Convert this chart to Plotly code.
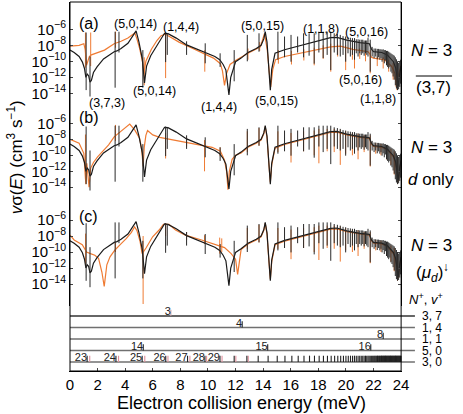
import numpy as np
import plotly.graph_objects as go

# ---- values (energies in meV, curves as log10 of v*sigma in cm^3 s^-1) ----

# black curve (full calculation) -- the same in panels (a), (b), (c)
black_E = [0.0, 0.3, 0.66, 0.9, 1.05, 1.15, 1.25, 1.35, 1.45, 1.55, 1.7, 1.96, 2.43, 2.9, 3.2, 3.4,
           3.7, 4.2, 4.55, 4.79, 5.0, 5.24, 5.4, 5.55, 5.85, 6.32, 6.68, 6.85, 7.1, 7.7, 8.45, 9.4,
           9.9, 10.5, 10.85, 11.1, 11.3, 11.45, 11.52, 11.65, 11.9, 12.0, 12.4, 12.9, 13.5, 13.85,
           14.05, 14.15, 14.28, 14.42, 14.52, 14.62, 14.86, 15.55, 16.74, 17.93, 18.88, 19.35, 20.06,
           21.01, 21.6, 21.7, 21.85, 22.0, 22.6, 23.0, 23.44, 23.6, 23.7, 23.8, 23.9, 24.0]
black_logv = [-8.6, -8.9, -9.4, -10.1, -10.9, -12.0, -11.6, -11.8, -12.6, -12.4, -11.4, -10.7, -9.7,
              -9.1, -8.8, -8.7, -8.4, -7.75, -6.9, -6.2, -7.6, -9.7, -12.7, -10.6, -9.3, -8.0, -6.95,
              -6.5, -6.55, -7.1, -7.95, -8.6, -9.0, -9.4, -9.8, -10.4, -11.1, -12.8, -14.2, -12.0,
              -10.4, -10.05, -9.6, -8.9, -8.4, -8.0, -7.2, -6.3, -7.6, -11.0, -13.6, -11.0, -9.0,
              -8.55, -8.0, -7.5, -7.05, -7.0, -7.35, -7.67, -7.75, -7.8, -8.5, -8.8, -8.9, -9.2,
              -10.05, -10.8, -11.9, -13.1, -11.5, -10.6]

# narrow resonances of the black curve: energy, upper end, lower end
black_spike_E = [1.17, 1.45, 3.27, 3.55, 5.28, 6.93, 7.05, 8.45, 9.8, 10.88, 11.9,
                 12.85, 13.7, 15.07, 15.55, 16.02, 16.5, 16.93, 17.33, 17.7, 18.04, 18.35, 18.64, 18.9,
                 19.15, 19.38, 19.59, 19.79, 19.98, 20.15, 20.32, 20.47, 20.62, 20.75, 20.88, 21.0,
                 21.11, 21.22, 21.32, 21.42, 21.51, 21.6, 21.76, 21.9, 22.04, 22.16, 22.27, 22.37,
                 22.46, 22.54, 22.62, 22.7, 22.78, 22.86, 22.94, 23.02, 23.1, 23.18, 23.26, 23.34,
                 23.42, 23.5, 23.58, 23.66, 23.74, 23.82, 23.9, 23.97]
black_spike_top = [-6.4, -9.4, -6.3, -6.3, -8.6, -6.4, -6.5, -7.5, -7.75, -9.0, -8.6,
                   -6.7, -6.5, -6.3, -6.9, -6.7, -6.9, -6.5, -6.5, -6.5, -6.3, -6.3, -6.3, -6.3,
                   -6.5, -6.6, -6.7, -6.85, -6.9, -7.0, -7.05, -7.1, -7.1, -7.25, -7.25, -7.3,
                   -7.3, -7.3, -7.4, -7.4, -7.4, -7.1, -7.3, -8.2, -8.4, -8.4, -8.45, -8.45,
                   -8.5, -8.5, -8.55, -8.5, -8.6, -8.6, -8.7, -8.7, -8.8, -8.9, -9.0, -9.1,
                   -9.2, -9.3, -9.5, -9.75, -10.0, -10.2, -10.0, -9.8]
black_spike_bot = [-13.6, -14.4, -13.3, -8.9, -13.3, -10.1, -9.2, -9.2, -10.25, -10.7, -12.5,
                   -10.0, -8.8, -9.8, -9.5, -10.05, -8.9, -9.5, -9.3, -10.3, -8.9, -9.6, -9.2, -11.1,
                   -8.9, -9.2, -9.4, -9.2, -10.05, -9.0, -9.4, -9.2, -9.8, -9.0, -9.4, -9.0,
                   -9.2, -9.0, -9.3, -9.0, -9.2, -9.4, -11.3, -9.4, -9.6, -9.4, -9.75, -9.5,
                   -9.8, -9.6, -10.05, -9.75, -10.25, -9.9, -10.5, -10.7, -10.9, -10.7, -11.3, -11.5,
                   -11.9, -12.3, -13.0, -13.4, -13.6, -13.5, -13.2, -12.8]

# orange curve, panel (a)
orange_a_E = [0.0, 0.66, 1.0, 1.1, 1.2, 1.3, 1.4, 1.55, 1.7, 2.0, 2.5, 3.2, 3.7, 4.2, 4.7, 4.85, 5.05,
              5.25, 5.35, 5.5, 5.9, 6.3, 6.6, 6.9, 7.2, 7.9, 8.9, 9.6, 10.4, 10.9, 11.05, 11.2, 11.35,
              11.6, 12.0, 12.9, 13.8, 14.1, 14.3, 14.45, 14.55, 14.7, 14.9, 15.55, 16.74, 17.93,
              18.88, 19.6, 20.5, 21.6, 21.7, 21.85, 22.0, 22.8, 23.3, 23.55, 23.65, 23.75, 23.9, 24.0]
orange_a_logv = [-8.1, -8.0, -7.8, -8.5, -10.5, -10.0, -9.4, -9.2, -9.1, -8.9, -8.6, -7.8, -7.5, -7.1,
                 -6.45, -7.2, -8.4, -10.0, -11.5, -10.0, -8.5, -7.4, -6.8, -6.6, -6.9, -7.6, -8.4,
                 -9.0, -9.6, -10.3, -11.2, -13.0, -11.5, -10.4, -9.9, -9.0, -8.2, -6.5, -8.6, -11.5,
                 -13.2, -11.0, -9.8, -9.4, -9.0, -8.6, -8.2, -8.1, -8.5, -8.8, -9.0, -9.5, -9.6,
                 -9.8, -10.6, -11.5, -13.2, -12.0, -11.0, -10.5]
orange_a_spike_E = [1.12, 1.5, 3.3, 5.38, 6.93, 9.77, 12.9, 13.75, 15.1, 16.05, 16.95, 17.7, 18.35,
                    18.9, 19.4, 19.98, 20.47, 20.62, 21.0, 21.42, 21.76, 22.27, 22.7, 23.1, 23.42, 23.7]
orange_a_spike_top = [-6.4, -6.4, -6.3, -9.5, -6.6, -8.6, -8.4, -7.6, -8.6, -8.7, -8.5, -8.3, -8.0,
                      -7.8, -7.9, -8.0, -8.2, -8.3, -8.4, -8.5, -8.6, -9.4, -9.5, -9.8, -10.2, -11.0]
orange_a_spike_bot = [-10.8, -10.6, -8.3, -13.0, -12.1, -11.3, -9.8, -8.7, -10.3, -10.4, -9.9, -10.5,
                      -9.7, -11.3, -9.4, -11.1, -9.8, -10.9, -9.7, -10.0, -11.5, -10.6, -10.9, -11.3,
                      -12.3, -13.6]

# orange curve, panel (b), below 12 meV
orange_b_E = [0.0, 0.66, 1.0, 1.08, 1.15, 1.22, 1.3, 1.38, 1.5, 1.7, 2.0, 2.8, 3.2, 3.7, 4.1, 4.33,
              4.7, 5.05, 5.2, 5.3, 5.38, 5.5, 5.62, 6.0, 6.5, 6.95, 7.9, 8.4, 9.6, 10.3, 10.9, 11.2,
              11.35, 11.45, 11.55, 11.75, 12.0]
orange_b_logv = [-8.0, -8.5, -9.75, -11.5, -13.6, -11.0, -12.3, -14.0, -11.6, -10.9, -10.2, -8.7,
                 -7.7, -7.0, -6.4, -6.1, -6.85, -7.9, -9.3, -11.4, -9.0, -7.5, -6.9, -7.45, -7.75,
                 -7.9, -8.15, -8.3, -8.7, -9.0, -9.5, -10.6, -12.0, -14.3, -12.0, -10.5, -10.0]
orange_b_spike_E = [1.12, 3.3, 6.93, 8.45, 9.75, 10.88]
orange_b_spike_top = [-7.4, -6.2, -7.2, -7.8, -8.1, -9.0]
orange_b_spike_bot = [-13.0, -8.2, -10.4, -8.9, -12.0, -10.1]

# orange curve, panel (c), below 12.3 meV
orange_c_E = [0.0, 0.3, 0.89, 1.05, 1.2, 1.48, 1.8, 2.07, 2.31, 2.48, 2.67, 2.9, 3.26, 3.62, 4.09,
              4.45, 4.68, 4.85, 5.08, 5.23, 5.51, 5.99, 6.46, 6.77, 7.17, 7.65, 8.36, 9.54, 10.25,
              10.73, 11.2, 11.68, 12.0, 12.15, 12.3]
orange_c_logv = [-7.9, -8.5, -9.1, -9.6, -10.0, -10.2, -10.4, -10.8, -12.5, -14.3, -11.6, -10.6,
                 -9.75, -9.1, -8.3, -7.55, -6.85, -7.3, -8.7, -10.2, -9.5, -8.1, -7.25, -6.55, -6.55,
                 -7.25, -7.9, -8.5, -8.9, -9.1, -9.45, -10.2, -10.9, -12.8, -10.8]
orange_c_spike_E = [1.13, 3.3, 5.3, 6.93, 8.45, 9.75, 10.85, 11.0]
orange_c_spike_top = [-7.7, -8.8, -8.0, -6.4, -7.5, -7.9, -8.2, -8.3]
orange_c_spike_bot = [-11.6, -10.0, -16.5, -8.0, -8.5, -9.0, -10.2, -10.0]

# orange curve above 12.4 meV, common to panels (b) and (c)
orange_bc_tail_E = [12.4, 12.9, 13.5, 13.85, 14.05, 14.15, 14.28, 14.42, 14.52, 14.62, 14.86, 15.55,
                    16.74, 17.93, 18.88, 19.35, 20.06, 21.01, 21.6, 21.7, 21.85, 22.0, 22.6, 23.0,
                    23.44, 23.6, 23.7, 23.8, 23.9, 24.0]
orange_bc_tail_logv = [-9.7, -9.0, -8.5, -8.1, -7.3, -6.4, -7.8, -11.2, -13.4, -11.2, -9.1, -8.65,
                       -8.1, -7.6, -7.15, -7.1, -7.45, -7.75, -7.85, -7.9, -8.6, -8.9, -9.0, -9.3,
                       -10.2, -11.0, -12.2, -13.3, -11.6, -10.7]
orange_bc_spike_E = [12.85, 13.7, 15.07, 16.02, 16.93, 17.7, 18.04, 18.64, 19.15, 19.59, 19.98,
                     20.47, 20.88, 21.32, 21.76, 22.16, 22.54, 22.94, 23.26, 23.5, 23.74]
orange_bc_spike_top = [-7.0, -6.6, -7.0, -7.2, -7.0, -6.9, -6.7, -6.7, -6.7, -6.8, -7.0, -7.2, -7.3,
                       -7.5, -7.5, -8.5, -8.6, -8.8, -9.2, -9.5, -10.2]
orange_bc_spike_bot = [-9.6, -8.8, -9.6, -10.9, -9.5, -10.0, -11.0, -9.5, -9.6, -11.2, -9.8, -10.0,
                       -10.5, -9.6, -11.4, -9.8, -10.0, -10.5, -11.2, -12.4, -13.6]

# threshold levels (N+, v+) of the bottom diagram
level_names = ["3, 7", "1, 4", "1, 1", "5, 0", "3, 0"]
level_index = [5, 4, 3, 2, 1]
level_span = [0.0, 25.0]

# single marked resonances on the upper levels
mark_E = [7.31, 12.48, 22.7, 5.31, 14.33, 21.8]
mark_level = [5, 4, 3, 2, 2, 2]
mark_text = ["3", "4", "8", "14", "15", "16"]

# Rydberg series converging to 3,0 (black) and its partner (pink)
series_E = [1.24, 3.33, 5.23, 6.94, 8.52, 9.78, 10.87, 11.9, 12.82, 13.64, 14.36, 15.02, 15.58,
             16.08, 16.54, 16.96, 17.36, 17.72, 18.06, 18.37, 18.66, 18.93, 19.18, 19.41, 19.62,
             19.82, 20.0, 20.17, 20.33, 20.48, 20.62, 20.75, 20.88, 21.0, 21.11, 21.22, 21.32,
             21.42, 21.51, 21.6, 21.68, 21.76, 21.84, 21.91, 21.98, 22.05, 22.11, 22.17, 22.23,
             22.29, 22.34, 22.39, 22.44, 22.49, 22.54, 22.58, 22.63, 22.67, 22.71, 22.75, 22.79,
             22.83, 22.87, 22.91, 22.95, 22.99, 23.03, 23.07, 23.11, 23.15, 23.19, 23.23, 23.27,
             23.31, 23.35, 23.39, 23.43, 23.47, 23.51, 23.55, 23.59, 23.63, 23.67, 23.71, 23.75,
             23.79, 23.83, 23.87, 23.91, 23.95, 23.99]
series_text = ["23", "24", "25", "26", "27", "28", "29"]
series_pink_E = [1.43, 3.52, 5.42, 7.1, 8.69, 9.9, 11.02, 12.02, 12.92]

# ---- geometry (pixels of the 463 x 414 page) ----
W, H = 463, 414
ML, MR, MT, MB = 70, 0, 2, 43
PW, PH = W - ML - MR, H - MT - MB
X_RIGHT = 408                      # pixel column of 24 meV = right frame
MAIN = (X_RIGHT - ML) / PW         # x-domain of the curve panels
PX_PER_DEC = 8.0


def px(x):
    return (x - ML) / PW


def py(y):
    return 1 - (y - MT) / PH


def log_range(row_1e6, top, bot):
    return [-6 - (bot - row_1e6) / PX_PER_DEC, -6 + (row_1e6 - top) / PX_PER_DEC]


ORANGE = "#ef7b33"
BLACK = "#1a1a1a"
FONT = "Liberation Sans, Arial, sans-serif"

fig = go.Figure()


def spikes(E, top, bot):
    xs, ys = [], []
    for e, t, b in zip(E, top, bot):
        xs += [e, e, None]
        ys += [10.0 ** t, 10.0 ** b, None]
    return xs, ys


def add_curve(E, logv, color, yax, width=1.2):
    fig.add_trace(go.Scatter(x=E, y=10.0 ** np.array(logv), mode="lines", xaxis="x", yaxis=yax,
                             line=dict(color=color, width=width), hoverinfo="skip", showlegend=False))


def add_spikes(E, top, bot, color, yax):
    sx, sy = spikes(E, top, bot)
    fig.add_trace(go.Scatter(x=sx, y=sy, mode="lines", xaxis="x", yaxis=yax,
                             line=dict(color=color, width=1), hoverinfo="skip", showlegend=False))


panels = [
    ("y", [(orange_a_E, orange_a_logv)],
     [(orange_a_spike_E, orange_a_spike_top, orange_a_spike_bot)]),
    ("y2", [(orange_b_E, orange_b_logv), (orange_bc_tail_E, orange_bc_tail_logv)],
     [(orange_b_spike_E, orange_b_spike_top, orange_b_spike_bot),
      (orange_bc_spike_E, orange_bc_spike_top, orange_bc_spike_bot)]),
    ("y3", [(orange_c_E, orange_c_logv), (orange_bc_tail_E, orange_bc_tail_logv)],
     [(orange_c_spike_E, orange_c_spike_top, orange_c_spike_bot),
      (orange_bc_spike_E, orange_bc_spike_top, orange_bc_spike_bot)]),
]
for yax, curves, spk in panels:
    for s in spk:
        add_spikes(*s, ORANGE, yax)
    E = [e for c in curves for e in c[0]]
    v = [x for c in curves for x in c[1]]
    add_curve(E, v, ORANGE, yax)
    add_curve(black_E, black_logv, BLACK, yax)
    add_spikes(black_spike_E, black_spike_top, black_spike_bot, "#2a2a2a", yax)

# ---- level diagram ----
LEVEL_ROWS = [316, 327.5, 339, 350.5, 362]
ROW_STEP = LEVEL_ROWS[1] - LEVEL_ROWS[0]
TICK_H = 0.55
for name, idx in zip(level_names, level_index):
    fig.add_trace(go.Scatter(x=level_span, y=[idx, idx], mode="lines", xaxis="x2", yaxis="y4",
                             line=dict(color="#333333" if idx == 5 else "#707070", width=1.4),
                             hoverinfo="skip", showlegend=False))


def tick_trace(E, lev, color):
    xs, ys = [], []
    for e, l in zip(E, lev):
        xs += [e, e, None]
        ys += [l, l + TICK_H, None]
    fig.add_trace(go.Scatter(x=xs, y=ys, mode="lines", xaxis="x2", yaxis="y4",
                             line=dict(color=color, width=1.1), hoverinfo="skip", showlegend=False))


tick_trace(series_pink_E, [1] * len(series_pink_E), "#e0909c")
tick_trace(series_E, [1] * len(series_E), "#222222")
tick_trace(mark_E[:1], mark_level[:1], "#c9a0a8")
tick_trace(mark_E[1:], mark_level[1:], "#222222")

fig.add_trace(go.Scatter(x=mark_E + series_E[:len(series_text)],
                         y=[l + 0.32 for l in mark_level] + [1.32] * len(series_text),
                         text=mark_text + series_text, mode="text", textposition="middle left",
                         textfont=dict(size=11, color="#222222", family=FONT),
                         xaxis="x2", yaxis="y4", cliponaxis=False, hoverinfo="skip", showlegend=False))

# ---- axes ----
tick_exp = [-14, -12, -10, -8, -6]
yticks = dict(type="log", tickvals=[10.0 ** e for e in tick_exp],
              ticktext=["10<sup>\u2212%d</sup>" % (-e) for e in tick_exp],
              ticks="inside", ticklen=3, showline=True, linecolor="black", linewidth=1,
              mirror="ticks", showgrid=False, zeroline=False, anchor="x",
              tickfont=dict(size=15, color="black", family=FONT))

lvl_lo = 1 - (371 - LEVEL_ROWS[-1]) / ROW_STEP
lvl_hi = 5 + (LEVEL_ROWS[0] - 306) / ROW_STEP

fig.update_layout(
    width=W, height=H, autosize=False,
    margin=dict(l=ML, r=MR, t=MT, b=MB),
    plot_bgcolor="white", paper_bgcolor="white",
    font=dict(family=FONT, size=13, color="black"),
    xaxis=dict(domain=[0, MAIN], range=[0, 24], anchor="y4", dtick=2, ticks="inside", ticklen=3,
               showgrid=False, zeroline=False, showline=True, linecolor="black",
               tickfont=dict(size=15, color="black", family=FONT)),
    xaxis2=dict(domain=[0, 1], range=[0, 24 / MAIN], anchor="y4", visible=False),
    xaxis3=dict(overlaying="x", side="top", anchor="y", range=[0, 24], dtick=1, ticks="inside",
                ticklen=3, showticklabels=False, showgrid=False, zeroline=False),
    yaxis=dict(domain=[py(103), 1], range=log_range(29.3, 2, 103), **yticks),
    yaxis2=dict(domain=[py(198), py(103)], range=log_range(123.3, 103, 198), **yticks),
    yaxis3=dict(domain=[py(306), py(198)], range=log_range(220, 198, 306), **yticks),
    yaxis4=dict(domain=[0, py(306)], range=[lvl_lo, lvl_hi], anchor="x2", visible=False),
)

# frame
fig.add_shape(type="rect", xref="paper", yref="paper", x0=0, x1=MAIN, y0=0, y1=1,
              line=dict(color="black", width=1), layer="above")

ann = []


def text(s, x, y, size, xanchor="center", angle=0):
    ann.append(dict(text=s, x=px(x), y=py(y), xref="paper", yref="paper", showarrow=False,
                    xanchor=xanchor, yanchor="middle", textangle=angle,
                    font=dict(size=size, family=FONT, color="black")))


for s, y in [("(a)", 24), ("(b)", 118), ("(c)", 217)]:
    text(s, 89, y, 16)

for s, x, y in [("(5,0,14)", 137, 24), ("(1,4,4)", 183, 27), ("(3,7,3)", 108, 103),
                ("(5,0,14)", 156, 91), ("(1,4,4)", 222, 107), ("(5,0,15)", 267, 26),
                ("(1,1,8)", 326, 29), ("(5,0,16)", 373, 32), ("(5,0,15)", 281, 101),
                ("(5,0,16)", 367, 80), ("(1,1,8)", 384, 99)]:
    text(s, x, y, 12.5)

for y in [50, 147, 245]:
    text("<i>N</i> = 3", 439, y, 17)
text("(3,7)", 441, 88, 17)
text("<i>d</i> only", 439, 180, 17)
text("(<i>\u03bc<sub>d</sub></i>)<sup>\u2193</sup>", 440, 272, 17)
text("<i>N</i><sup>+</sup>, <i>v</i><sup>+</sup>", 433, 299, 13)
text("Electron collision energy (meV)", 245, 403, 18)
text("<i>v</i>\u03c3(<i>E</i>) (cm<sup>3</sup> s<sup>\u22121</sup>)", 14, 157, 17, angle=-90)

for name, idx in zip(level_names, level_index):
    ann.append(dict(text=name, x=(427 - ML) / (PW / (24 / MAIN)), y=idx, xref="x2", yref="y4",
                    showarrow=False, xanchor="left", yanchor="middle",
                    font=dict(size=12, family=FONT, color="black")))

fig.update_layout(annotations=ann)

# bar over (3,7)
fig.add_shape(type="line", xref="paper", yref="paper", x0=px(423), x1=px(460), y0=py(76), y1=py(76),
              line=dict(color="black", width=1))

# the page's default body margin would push the figure 8 px off the window
fig.write_html("out.html", config={"displayModeBar": False},
               post_script="document.body.style.margin='0';")
